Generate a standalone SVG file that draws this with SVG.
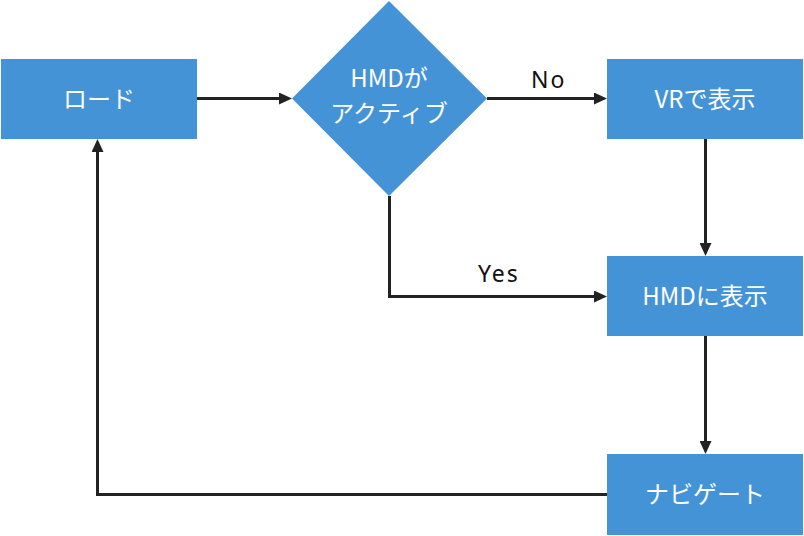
<svg xmlns="http://www.w3.org/2000/svg" width="804" height="536" viewBox="0 0 804 536">
<style>
.node{fill:#4493d7;}
.nt{fill:#ffffff;font-family:"Noto Sans CJK JP","Noto Sans",sans-serif;font-size:24px;text-anchor:middle;}
.edge{fill:none;stroke:#222222;stroke-width:3;}
.lbl{fill:#111111;font-family:"Noto Sans","Noto Sans CJK JP",sans-serif;font-size:23px;letter-spacing:2px;}
</style>
<defs>
<marker id="arr" viewBox="0 0 13 12" markerWidth="13" markerHeight="12" refX="9" refY="6" orient="auto" markerUnits="userSpaceOnUse">
<path d="M0,0 L13,6 L0,12 Z" fill="#222222"/>
</marker>
</defs>
<rect width="804" height="536" fill="#ffffff"/>
<g id="connectors">
<path class="edge" d="M197,98.5 L288,98.5" marker-end="url(#arr)"/>
<path class="edge" d="M487,98.5 L603,98.5" marker-end="url(#arr)"/>
<path class="edge" d="M705.5,139 L705.5,252" marker-end="url(#arr)"/>
<path class="edge" d="M389.5,196 L389.5,296.5 L603,296.5" marker-end="url(#arr)"/>
<path class="edge" d="M705.5,336 L705.5,450" marker-end="url(#arr)"/>
<path class="edge" d="M607,494.5 L97.5,494.5 L97.5,143" marker-end="url(#arr)"/>
<text class="lbl" x="531" y="88">No</text>
<text class="lbl" x="478" y="282">Yes</text>
</g>
<g id="load">
<rect class="node" x="1" y="59" width="196" height="80"/>
<text class="nt" x="99" y="108">ロード</text>
</g>
<g id="hmd-active">
<polygon class="node" points="389,1 487,98.5 389,196 292,98.5"/>
<text class="nt" x="389" y="87">HMDが</text>
<text class="nt" x="389" y="122">アクティブ</text>
</g>
<g id="vr-display">
<rect class="node" x="607" y="59" width="196" height="80"/>
<text class="nt" x="705" y="108">VRで表示</text>
</g>
<g id="hmd-display">
<rect class="node" x="607" y="256" width="196" height="80"/>
<text class="nt" x="705" y="305">HMDに表示</text>
</g>
<g id="navigate">
<rect class="node" x="607" y="454" width="196" height="81"/>
<text class="nt" x="705" y="503">ナビゲート</text>
</g>
</svg>
